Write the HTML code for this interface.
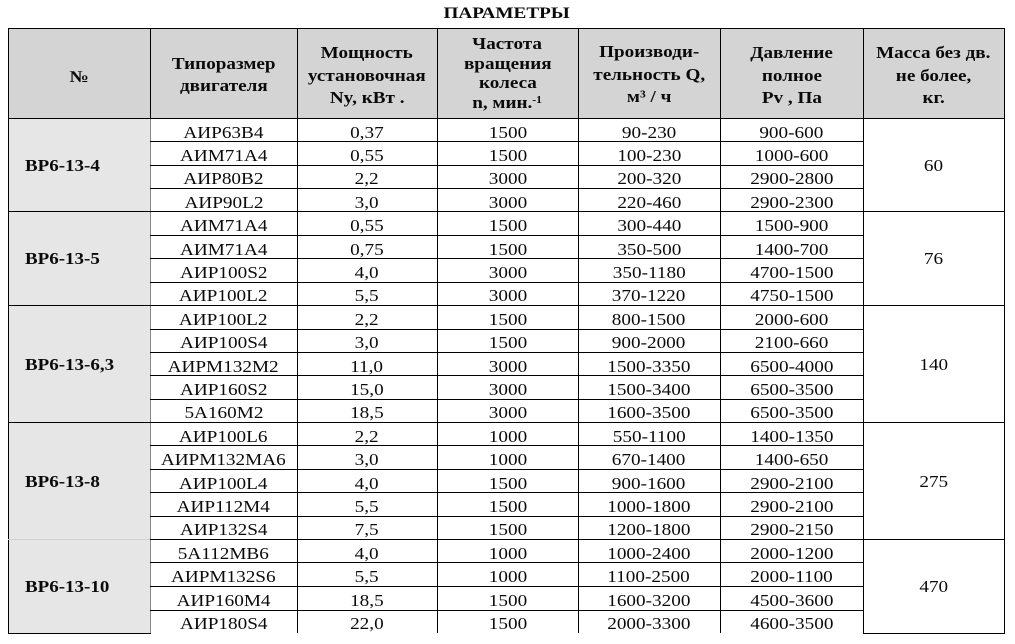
<!DOCTYPE html>
<html><head><meta charset="utf-8">
<style>
body{margin:0;width:1015px;height:644px;background:#fff;position:relative;overflow:hidden;font-family:"Liberation Serif","DejaVu Serif",serif;color:#0a0a0a}
.sx{display:inline-block;transform:scaleX(1.2);transform-origin:center}
.title{position:absolute;left:407px;width:200px;top:4px;text-align:center;font-weight:bold;font-size:16px;line-height:20px}
.hbg{position:absolute;left:8px;top:28px;width:996px;height:90px;background:#d4d4d4}
.c1bg{position:absolute;left:8px;top:118px;width:142px;height:515px;background:#e6e6e6}
.h{position:absolute;top:30px;height:90px;display:flex;flex-direction:column;justify-content:center;align-items:center;font-weight:bold;font-size:16.5px;line-height:22.5px;white-space:nowrap}
.h span{display:block;transform:scaleX(1.16)}
.h4{line-height:19.5px}
.r{position:absolute;left:0;width:1015px;height:23.41px;line-height:23.41px;font-size:17px}
.r div{position:absolute;top:0;height:23.41px;text-align:center;white-space:nowrap}
.r span{display:inline-block;transform:scaleX(1.13)}
.a{left:150px;width:147px}.b{left:297px;width:140px}.c{left:437px;width:141px}.d{left:578px;width:142px}.e{left:720px;width:143px}
.g{position:absolute;left:25px;display:flex;align-items:center;font-weight:bold;font-size:16.5px;white-space:nowrap}
.g span{display:inline-block;transform:scaleX(1.15);transform-origin:left center}
.m{position:absolute;left:863px;width:141px;display:flex;align-items:center;justify-content:center;font-size:17px}
.m span{display:inline-block;transform:scaleX(1.13)}
.hl{position:absolute;height:1px;background:#000}
.vl{position:absolute;width:1px;background:#000}
</style></head><body>
<div class="title"><span class="sx">ПАРАМЕТРЫ</span></div>
<div class="hbg"></div>
<div class="c1bg"></div>

<div class="h" style="left:8px;width:142px;top:32px"><span>№</span></div>
<div class="h" style="left:150px;width:147px;top:30px"><span>Типоразмер</span><span>двигателя</span></div>
<div class="h" style="left:297px;width:140px;top:31px"><span>Мощность</span><span>установочная</span><span>Ny, кВт .</span></div>
<div class="h h4" style="left:437px;width:141px;top:28px"><span>Частота</span><span>вращения</span><span>колеса</span><span>n, мин.<sup style="font-size:10px;vertical-align:5px;line-height:0">-1</sup></span></div>
<div class="h" style="left:578px;width:142px;top:30px"><span>Производи-</span><span>тельность Q,</span><span>м³ / ч</span></div>
<div class="h" style="left:720px;width:143px;top:31px"><span>Давление</span><span>полное</span><span>Pv , Па</span></div>
<div class="h" style="left:863px;width:141px;top:31px"><span>Масса без дв.</span><span>не более,</span><span>кг.</span></div>

<!-- body rows -->
<div class="r" style="top:120.50px"><div class="a"><span>АИР63В4</span></div><div class="b"><span>0,37</span></div><div class="c"><span>1500</span></div><div class="d"><span>90-230</span></div><div class="e"><span>900-600</span></div></div>
<div class="r" style="top:143.91px"><div class="a"><span>АИМ71А4</span></div><div class="b"><span>0,55</span></div><div class="c"><span>1500</span></div><div class="d"><span>100-230</span></div><div class="e"><span>1000-600</span></div></div>
<div class="r" style="top:167.32px"><div class="a"><span>АИР80В2</span></div><div class="b"><span>2,2</span></div><div class="c"><span>3000</span></div><div class="d"><span>200-320</span></div><div class="e"><span>2900-2800</span></div></div>
<div class="r" style="top:190.73px"><div class="a"><span>АИР90L2</span></div><div class="b"><span>3,0</span></div><div class="c"><span>3000</span></div><div class="d"><span>220-460</span></div><div class="e"><span>2900-2300</span></div></div>

<div class="r" style="top:214.14px"><div class="a"><span>АИМ71А4</span></div><div class="b"><span>0,55</span></div><div class="c"><span>1500</span></div><div class="d"><span>300-440</span></div><div class="e"><span>1500-900</span></div></div>
<div class="r" style="top:237.55px"><div class="a"><span>АИМ71А4</span></div><div class="b"><span>0,75</span></div><div class="c"><span>1500</span></div><div class="d"><span>350-500</span></div><div class="e"><span>1400-700</span></div></div>
<div class="r" style="top:260.96px"><div class="a"><span>АИР100S2</span></div><div class="b"><span>4,0</span></div><div class="c"><span>3000</span></div><div class="d"><span>350-1180</span></div><div class="e"><span>4700-1500</span></div></div>
<div class="r" style="top:284.37px"><div class="a"><span>АИР100L2</span></div><div class="b"><span>5,5</span></div><div class="c"><span>3000</span></div><div class="d"><span>370-1220</span></div><div class="e"><span>4750-1500</span></div></div>

<div class="r" style="top:307.78px"><div class="a"><span>АИР100L2</span></div><div class="b"><span>2,2</span></div><div class="c"><span>1500</span></div><div class="d"><span>800-1500</span></div><div class="e"><span>2000-600</span></div></div>
<div class="r" style="top:331.19px"><div class="a"><span>АИР100S4</span></div><div class="b"><span>3,0</span></div><div class="c"><span>1500</span></div><div class="d"><span>900-2000</span></div><div class="e"><span>2100-660</span></div></div>
<div class="r" style="top:354.60px"><div class="a"><span>АИРМ132М2</span></div><div class="b"><span>11,0</span></div><div class="c"><span>3000</span></div><div class="d"><span>1500-3350</span></div><div class="e"><span>6500-4000</span></div></div>
<div class="r" style="top:378.01px"><div class="a"><span>АИР160S2</span></div><div class="b"><span>15,0</span></div><div class="c"><span>3000</span></div><div class="d"><span>1500-3400</span></div><div class="e"><span>6500-3500</span></div></div>
<div class="r" style="top:401.42px"><div class="a"><span>5А160М2</span></div><div class="b"><span>18,5</span></div><div class="c"><span>3000</span></div><div class="d"><span>1600-3500</span></div><div class="e"><span>6500-3500</span></div></div>

<div class="r" style="top:424.83px"><div class="a"><span>АИР100L6</span></div><div class="b"><span>2,2</span></div><div class="c"><span>1000</span></div><div class="d"><span>550-1100</span></div><div class="e"><span>1400-1350</span></div></div>
<div class="r" style="top:448.24px"><div class="a"><span>АИРМ132МА6</span></div><div class="b"><span>3,0</span></div><div class="c"><span>1000</span></div><div class="d"><span>670-1400</span></div><div class="e"><span>1400-650</span></div></div>
<div class="r" style="top:471.65px"><div class="a"><span>АИР100L4</span></div><div class="b"><span>4,0</span></div><div class="c"><span>1500</span></div><div class="d"><span>900-1600</span></div><div class="e"><span>2900-2100</span></div></div>
<div class="r" style="top:495.06px"><div class="a"><span>АИР112М4</span></div><div class="b"><span>5,5</span></div><div class="c"><span>1500</span></div><div class="d"><span>1000-1800</span></div><div class="e"><span>2900-2100</span></div></div>
<div class="r" style="top:518.47px"><div class="a"><span>АИР132S4</span></div><div class="b"><span>7,5</span></div><div class="c"><span>1500</span></div><div class="d"><span>1200-1800</span></div><div class="e"><span>2900-2150</span></div></div>

<div class="r" style="top:541.88px"><div class="a"><span>5А112МВ6</span></div><div class="b"><span>4,0</span></div><div class="c"><span>1000</span></div><div class="d"><span>1000-2400</span></div><div class="e"><span>2000-1200</span></div></div>
<div class="r" style="top:565.29px"><div class="a"><span>АИРМ132S6</span></div><div class="b"><span>5,5</span></div><div class="c"><span>1000</span></div><div class="d"><span>1100-2500</span></div><div class="e"><span>2000-1100</span></div></div>
<div class="r" style="top:588.70px"><div class="a"><span>АИР160М4</span></div><div class="b"><span>18,5</span></div><div class="c"><span>1500</span></div><div class="d"><span>1600-3200</span></div><div class="e"><span>4500-3600</span></div></div>
<div class="r" style="top:612.11px"><div class="a"><span>АИР180S4</span></div><div class="b"><span>22,0</span></div><div class="c"><span>1500</span></div><div class="d"><span>2000-3300</span></div><div class="e"><span>4600-3500</span></div></div>

<!-- group labels -->
<div class="g" style="top:119px;height:93.6px"><span>ВР6-13-4</span></div>
<div class="g" style="top:212.6px;height:93.6px"><span>ВР6-13-5</span></div>
<div class="g" style="top:306.3px;height:117px"><span>ВР6-13-6,3</span></div>
<div class="g" style="top:423.3px;height:117px"><span>ВР6-13-8</span></div>
<div class="g" style="top:540.4px;height:93.6px"><span>ВР6-13-10</span></div>

<div class="m" style="top:119px;height:93.6px"><span>60</span></div>
<div class="m" style="top:212.6px;height:93.6px"><span>76</span></div>
<div class="m" style="top:306.3px;height:117px"><span>140</span></div>
<div class="m" style="top:423.3px;height:117px"><span>275</span></div>
<div class="m" style="top:540.4px;height:93.6px"><span>470</span></div>

<!-- vertical lines -->
<div class="vl" style="left:8px;top:28px;height:606px"></div>
<div class="vl" style="left:150px;top:28px;height:90px"></div>
<div class="vl" style="left:150px;top:118px;height:515px;background:#8a8a8a"></div>
<div class="vl" style="left:297px;top:28px;height:605px"></div>
<div class="vl" style="left:437px;top:28px;height:605px"></div>
<div class="vl" style="left:578px;top:28px;height:605px"></div>
<div class="vl" style="left:720px;top:28px;height:605px"></div>
<div class="vl" style="left:863px;top:28px;height:605px"></div>
<div class="vl" style="left:1004px;top:28px;height:606px"></div>

<!-- horizontal lines -->
<div class="hl" style="left:8px;top:28px;width:997px"></div>
<div class="hl" style="left:8px;top:118px;width:997px"></div>
<div class="hl" style="left:8px;top:211px;width:997px"></div>
<div class="hl" style="left:8px;top:305px;width:997px"></div>
<div class="hl" style="left:8px;top:422px;width:997px"></div>
<div class="hl" style="left:150px;top:539px;width:855px"></div>
<div class="hl" style="left:8px;top:539px;width:142px;background:#d0d0d0"></div>
<div class="hl" style="left:150px;top:141px;width:713px"></div>
<div class="hl" style="left:150px;top:165px;width:713px"></div>
<div class="hl" style="left:150px;top:188px;width:713px"></div>
<div class="hl" style="left:150px;top:235px;width:713px"></div>
<div class="hl" style="left:150px;top:258px;width:713px"></div>
<div class="hl" style="left:150px;top:282px;width:713px"></div>
<div class="hl" style="left:150px;top:329px;width:713px"></div>
<div class="hl" style="left:150px;top:352px;width:713px"></div>
<div class="hl" style="left:150px;top:375px;width:713px"></div>
<div class="hl" style="left:150px;top:399px;width:713px"></div>
<div class="hl" style="left:150px;top:445px;width:713px"></div>
<div class="hl" style="left:150px;top:469px;width:713px"></div>
<div class="hl" style="left:150px;top:492px;width:713px"></div>
<div class="hl" style="left:150px;top:516px;width:713px"></div>
<div class="hl" style="left:150px;top:562px;width:713px"></div>
<div class="hl" style="left:150px;top:586px;width:713px"></div>
<div class="hl" style="left:150px;top:610px;width:713px"></div>
<div class="hl" style="left:8px;top:633px;width:143px"></div>
<div class="hl" style="left:863px;top:633px;width:142px"></div>
</body></html>
